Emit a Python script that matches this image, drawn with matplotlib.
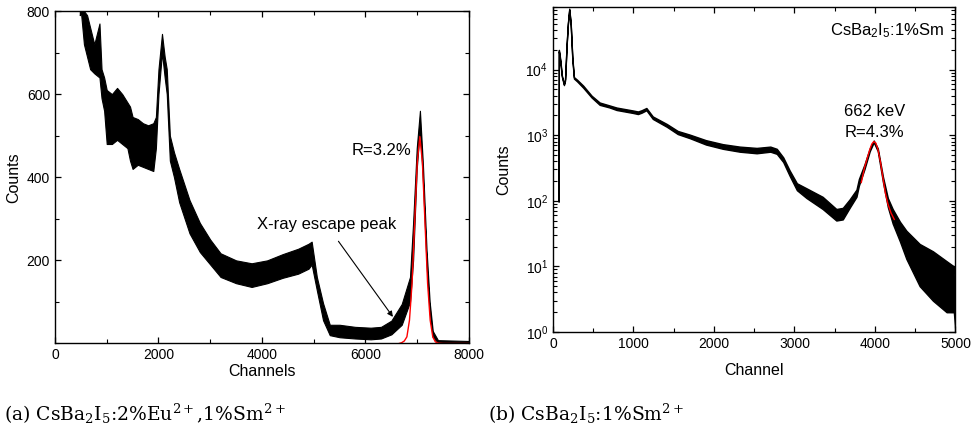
import matplotlib
matplotlib.use("Agg")
import matplotlib.pyplot as plt
import numpy as np
from matplotlib.ticker import MultipleLocator, FixedLocator, LogLocator, NullFormatter

plt.rcParams['font.family'] = ['Liberation Sans', 'DejaVu Sans']
plt.rcParams['mathtext.fontset'] = 'custom'
plt.rcParams['mathtext.rm'] = 'Liberation Sans'
plt.rcParams['mathtext.it'] = 'Liberation Sans:italic'
plt.rcParams['mathtext.bf'] = 'Liberation Sans:bold'

# ---------------- (a) CsBa2I5:2%Eu,1%Sm spectrum (noise band low/high) ----------------
a_ch = [480, 500, 560, 620, 680, 760, 860, 900, 950, 1000, 1100, 1200, 1300, 1400, 1450,
        1500, 1600, 1700, 1800, 1900, 1950, 2000, 2068, 2120, 2160, 2220, 2300, 2400, 2600,
        2800, 3000, 3200, 3500, 3800, 4100, 4400, 4700, 4900, 4960, 5060, 5180, 5310, 5500,
        5800, 6100, 6300, 6500, 6700, 6860, 6920, 6990, 7052, 7110, 7180, 7240, 7300, 7400, 8000]
a_lo = [790, 800, 720, 690, 660, 650, 640, 590, 560, 480, 480, 490, 480, 470, 440,
        420, 430, 425, 420, 415, 470, 600, 700, 640, 600, 440, 400, 340, 265,
        220, 190, 160, 145, 136, 145, 158, 168, 180, 190, 128, 56, 20, 15,
        12, 10, 12, 22, 45, 100, 200, 420, 520, 390, 190, 75, 15, 2, 2]
a_hi = [860, 860, 800, 790, 760, 720, 770, 660, 640, 610, 600, 615, 600, 580, 570,
        545, 540, 530, 525, 530, 545, 660, 745, 690, 660, 500, 460, 420, 345,
        290, 250, 217, 200, 193, 200, 215, 228, 240, 245, 160, 97, 45, 45,
        40, 38, 40, 55, 95, 160, 290, 470, 560, 430, 225, 100, 30, 8, 6]
# Gaussian fit (red)
a_fit_ch = [6650, 6700, 6750, 6800, 6850, 6900, 6950, 7000, 7050, 7100, 7150, 7200, 7250,
            7300, 7350, 7400, 7500, 8000]
a_fit = [0, 2, 6, 16, 56, 145, 290, 435, 498, 435, 290, 145, 56, 16, 4, 1, 0, 0]

# ---------------- (b) CsBa2I5:1%Sm spectrum ----------------
b_ch = [70, 73, 90, 110, 136, 150, 170, 185, 202, 220, 240, 260, 300, 375, 480, 580, 700,
        790, 995, 1055, 1100, 1160, 1240, 1415, 1550, 1700, 1900, 2110, 2320, 2530, 2700,
        2780, 2860, 2940, 3030, 3150, 3350, 3520, 3600, 3685, 3770, 3800, 3870, 3935, 3985,
        4035, 4100, 4160, 4220, 4310, 4390, 4555, 4720, 4890, 4980, 5000]
b_lo = [97, 19000, 13500, 7800, 5800, 6800, 24000, 49000, 82000, 49000, 14500, 7300, 6600,
        5300, 3750, 2900, 2650, 2420, 2180, 2100, 2200, 2400, 1770, 1340, 1040, 900, 720,
        620, 560, 530, 560, 520, 390, 240, 145, 110, 75, 50, 52, 78, 115, 170, 305, 570, 780,
        570, 190, 80, 45, 24, 13, 5, 3, 2, 2, 1]
b_hi = [97, 20000, 14500, 8200, 6000, 7200, 25000, 51000, 85000, 51000, 15500, 7700, 7000,
        5700, 4000, 3150, 2850, 2640, 2380, 2300, 2400, 2600, 1930, 1480, 1160, 1020, 840,
        730, 670, 640, 670, 620, 460, 290, 185, 155, 115, 75, 78, 105, 148, 215, 360, 630, 830,
        630, 230, 110, 75, 48, 35, 22, 17, 12, 10, 4]
b_fit_ch = [3830, 3870, 3900, 3935, 3960, 3985, 4010, 4035, 4070, 4100, 4130, 4160, 4200, 4240]
b_fit = [190, 320, 430, 600, 730, 800, 760, 620, 380, 220, 130, 90, 65, 52]

fig = plt.figure(figsize=(9.71, 4.32), dpi=100)

# ---- left panel ----
axL = fig.add_axes([0.0566, 0.2049, 0.4264, 0.7696])
axL.fill_between(a_ch, a_lo, a_hi, color='black', lw=0.8)
axL.plot(a_fit_ch, a_fit, color='red', lw=1.0)
axL.set_xlim(0, 8000)
axL.set_ylim(0, 800)
axL.xaxis.set_major_locator(MultipleLocator(2000))
axL.xaxis.set_minor_locator(MultipleLocator(1000))
axL.yaxis.set_major_locator(FixedLocator([200, 400, 600, 800]))
axL.yaxis.set_minor_locator(MultipleLocator(100))
axL.set_xlabel('Channels', fontsize=11.5, labelpad=1)
axL.set_ylabel('Counts', fontsize=11.5, labelpad=4)
axL.text(6890, 464, 'R=3.2%', fontsize=12, ha='right', va='center')
axL.annotate('X-ray escape peak', xy=(6530, 64), xytext=(5240, 287),
             fontsize=12, ha='center', va='center',
             arrowprops=dict(arrowstyle='-|>', color='black', lw=0.8,
                             mutation_scale=8, shrinkA=6, shrinkB=0))

# ---- right panel ----
axR = fig.add_axes([0.5695, 0.2315, 0.4145, 0.7523])
axR.fill_between(b_ch, b_lo, b_hi, color='black', lw=1.0)
axR.plot(b_fit_ch, b_fit, color='red', lw=1.0)
axR.set_yscale('log')
axR.set_xlim(0, 5000)
axR.set_ylim(1, 9e4)
axR.xaxis.set_major_locator(MultipleLocator(1000))
axR.xaxis.set_minor_locator(MultipleLocator(500))
axR.yaxis.set_major_locator(LogLocator(base=10, numticks=10))
axR.yaxis.set_minor_locator(LogLocator(base=10, subs=np.arange(2, 10), numticks=20))
axR.yaxis.set_minor_formatter(NullFormatter())
axR.set_xlabel('Channel', fontsize=11.5, labelpad=9)
axR.set_ylabel('Counts', fontsize=11.5, labelpad=10)
axR.text(3997, 2280, '662 keV', fontsize=12, ha='center', va='center')
axR.text(3997, 1090, 'R=4.3%', fontsize=12, ha='center', va='center')
axR.text(4851, 3.94e4, r'CsBa$_2$I$_5$:1%Sm', fontsize=12, ha='right', va='center')

for ax in (axL, axR):
    ax.tick_params(which='both', direction='in', top=True, right=True, labelsize=10)
    ax.tick_params(which='major', length=4.5, width=0.9)
    ax.tick_params(which='minor', length=3, width=0.8)
    for s in ax.spines.values():
        s.set_linewidth(1.0)

# ---- captions ----
fig.text(0.004, 0.026, r'(a) CsBa$_2$I$_5$:2%Eu$^{2+}$,1%Sm$^{2+}$', fontsize=13.5,
         family='DejaVu Serif', math_fontfamily='dejavuserif', ha='left', va='baseline')
fig.text(0.503, 0.026, r'(b) CsBa$_2$I$_5$:1%Sm$^{2+}$', fontsize=13.5,
         family='DejaVu Serif', math_fontfamily='dejavuserif', ha='left', va='baseline')

fig.savefig('out.png', dpi=100)
